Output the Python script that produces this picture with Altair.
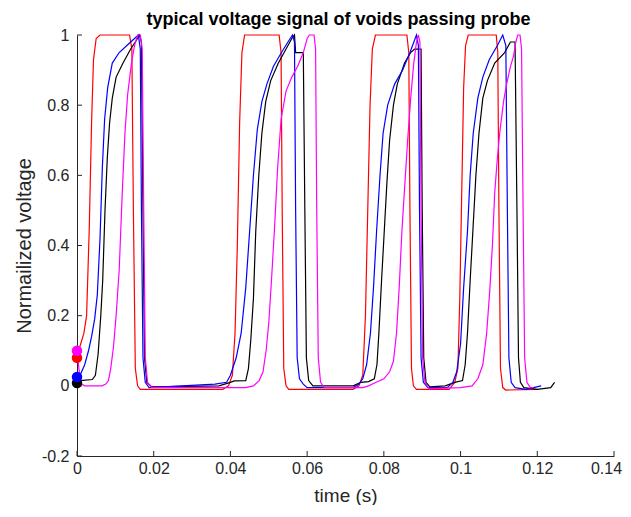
import altair as alt
import pandas as pd

# ---- data ----
red_t = [0.0000, 0.0007, 0.0018, 0.0025, 0.0032, 0.0038, 0.0043, 0.0050, 0.0060, 0.0137, 0.0143, 0.0147, 0.0152, 0.0158, 0.0165,
         0.0380, 0.0395, 0.0405, 0.0412, 0.0418, 0.0424, 0.0430, 0.0437, 0.0527, 0.0532, 0.0535, 0.0539, 0.0545, 0.0552,
         0.0720, 0.0735, 0.0745, 0.0752, 0.0758, 0.0764, 0.0770, 0.0778, 0.0860, 0.0865, 0.0868, 0.0872, 0.0877, 0.0885,
         0.0970, 0.0985, 0.0993, 0.0998, 0.1003, 0.1008, 0.1013, 0.1020, 0.1093, 0.1097, 0.1100, 0.1104, 0.1110, 0.1118, 0.1200]
red_v = [0.080, 0.110, 0.150, 0.200, 0.450, 0.750, 0.930, 0.990, 1.000, 1.000, 0.960, 0.500, 0.050, 0.000, -0.010,
         -0.010, 0.000, 0.030, 0.150, 0.400, 0.750, 0.950, 1.000, 1.000, 0.950, 0.500, 0.050, 0.000, -0.010,
         -0.010, 0.000, 0.030, 0.200, 0.500, 0.800, 0.960, 1.000, 1.000, 0.950, 0.500, 0.050, 0.000, -0.010,
         -0.010, 0.010, 0.050, 0.250, 0.550, 0.850, 0.970, 1.000, 1.000, 0.950, 0.500, 0.050, -0.005, -0.012, -0.010]

black_t = [0.0000, 0.0008, 0.0040, 0.0048, 0.0055, 0.0062, 0.0067, 0.0073, 0.0079, 0.0085, 0.0092, 0.0102, 0.0120, 0.0140,
           0.0155, 0.0163, 0.0168, 0.0172, 0.0176, 0.0182, 0.0195,
           0.0370, 0.0400, 0.0410, 0.0440, 0.0447, 0.0453, 0.0460, 0.0466, 0.0474, 0.0482, 0.0492, 0.0505, 0.0525, 0.0545,
           0.0560, 0.0567, 0.0570, 0.0590, 0.0594, 0.0598, 0.0604, 0.0615,
           0.0720, 0.0740, 0.0760, 0.0775, 0.0782, 0.0787, 0.0794, 0.0801, 0.0808, 0.0815, 0.0825, 0.0835, 0.0854, 0.0870,
           0.0880, 0.0897, 0.0900, 0.0904, 0.0910, 0.0920,
           0.0960, 0.0985, 0.1005, 0.1012, 0.1018, 0.1025, 0.1032, 0.1040, 0.1048, 0.1058, 0.1070, 0.1089, 0.1115, 0.1130,
           0.1142, 0.1147, 0.1151, 0.1156, 0.1165, 0.1200, 0.1235, 0.1245]
black_v = [0.010, 0.015, 0.018, 0.030, 0.090, 0.200, 0.300, 0.500, 0.650, 0.750, 0.820, 0.880, 0.920, 0.960,
           0.985, 1.000, 0.980, 0.500, 0.080, 0.010, -0.003,
           0.000, 0.010, 0.014, 0.015, 0.050, 0.130, 0.250, 0.440, 0.600, 0.720, 0.810, 0.870, 0.920, 0.960,
           0.990, 1.000, 0.950, 0.950, 0.500, 0.080, 0.015, 0.000,
           0.000, 0.010, 0.012, 0.020, 0.060, 0.150, 0.300, 0.440, 0.580, 0.700, 0.800, 0.860, 0.920, 0.950,
           0.960, 0.960, 0.500, 0.080, 0.010, -0.003,
           0.000, 0.010, 0.015, 0.060, 0.150, 0.300, 0.440, 0.600, 0.720, 0.820, 0.870, 0.920, 0.950, 0.980,
           0.980, 0.500, 0.080, 0.010, -0.005, -0.010, -0.005, 0.010]

blue_t = [0.0000, 0.0010, 0.0020, 0.0030, 0.0038, 0.0046, 0.0053, 0.0060, 0.0066, 0.0072, 0.0080, 0.0092, 0.0110, 0.0130,
          0.0150, 0.0160, 0.0165, 0.0168, 0.0172, 0.0178, 0.0188,
          0.0360, 0.0390, 0.0400, 0.0415, 0.0428, 0.0440, 0.0450, 0.0460, 0.0470, 0.0482, 0.0495, 0.0512, 0.0533, 0.0550,
          0.0562, 0.0567, 0.0570, 0.0574, 0.0580, 0.0590, 0.0600,
          0.0720, 0.0735, 0.0745, 0.0755, 0.0765, 0.0773, 0.0781, 0.0790, 0.0798, 0.0810, 0.0828, 0.0849, 0.0868, 0.0885,
          0.0890, 0.0893, 0.0897, 0.0903, 0.0915,
          0.0965, 0.0980, 0.0990, 0.1000, 0.1008, 0.1018, 0.1025, 0.1033, 0.1045, 0.1058, 0.1075, 0.1096, 0.1110, 0.1118,
          0.1122, 0.1126, 0.1132, 0.1142, 0.1170, 0.1190, 0.1210]
blue_v = [0.025, 0.035, 0.060, 0.100, 0.140, 0.190, 0.260, 0.420, 0.620, 0.760, 0.850, 0.920, 0.950, 0.970,
          0.990, 1.000, 0.960, 0.500, 0.080, 0.010, -0.005,
          0.005, 0.010, 0.030, 0.080, 0.150, 0.280, 0.440, 0.600, 0.730, 0.810, 0.860, 0.910, 0.950, 0.980,
          1.000, 0.980, 0.500, 0.080, 0.020, 0.005, -0.005,
          -0.005, 0.005, 0.020, 0.060, 0.150, 0.280, 0.440, 0.600, 0.720, 0.800, 0.860, 0.900, 0.950, 1.000,
          0.970, 0.500, 0.080, 0.010, -0.005,
          -0.005, 0.010, 0.040, 0.120, 0.280, 0.440, 0.600, 0.720, 0.820, 0.880, 0.930, 0.970, 1.000, 0.970,
          0.500, 0.080, 0.010, -0.005, -0.010, -0.005, 0.000]

magenta_t = [0.0000, 0.0006, 0.0012, 0.0020, 0.0065, 0.0075, 0.0082, 0.0088, 0.0095, 0.0102, 0.0110, 0.0118, 0.0125, 0.0132,
             0.0142, 0.0150, 0.0158, 0.0165, 0.0170, 0.0174, 0.0178, 0.0184, 0.0195,
             0.0440, 0.0460, 0.0475, 0.0485, 0.0493, 0.0500, 0.0507, 0.0515, 0.0523, 0.0532, 0.0545, 0.0560, 0.0575, 0.0590,
             0.0600, 0.0606, 0.0618, 0.0622, 0.0625, 0.0629, 0.0635, 0.0645,
             0.0745, 0.0760, 0.0780, 0.0800, 0.0815, 0.0825, 0.0833, 0.0840, 0.0847, 0.0855, 0.0862, 0.0870, 0.0878, 0.0885,
             0.0890, 0.0894, 0.0897, 0.0901, 0.0907, 0.0918,
             0.1000, 0.1030, 0.1045, 0.1058, 0.1068, 0.1076, 0.1083, 0.1089, 0.1096, 0.1102, 0.1112, 0.1120, 0.1130, 0.1138,
             0.1144, 0.1149, 0.1155, 0.1159, 0.1163, 0.1167, 0.1173, 0.1182, 0.1190]
magenta_v = [0.100, 0.040, 0.005, 0.000, 0.000, 0.005, 0.015, 0.050, 0.110, 0.200, 0.330, 0.550, 0.720, 0.830,
             0.920, 0.970, 1.000, 1.000, 0.960, 0.500, 0.080, 0.010, -0.005,
             -0.005, 0.000, 0.015, 0.040, 0.100, 0.180, 0.300, 0.450, 0.620, 0.760, 0.840, 0.880, 0.910, 0.950,
             0.990, 1.000, 1.000, 0.960, 0.500, 0.080, 0.010, -0.005,
             -0.005, 0.000, 0.010, 0.020, 0.040, 0.070, 0.150, 0.280, 0.440, 0.580, 0.700, 0.820, 0.920, 0.980,
             1.000, 0.980, 0.500, 0.080, 0.010, -0.008,
             -0.005, 0.000, 0.020, 0.060, 0.150, 0.270, 0.400, 0.550, 0.650, 0.720, 0.810, 0.860, 0.910, 0.940,
             0.980, 1.000, 1.000, 0.960, 0.500, 0.080, 0.010, -0.005, -0.005]

dot_series = ["black", "blue", "red", "magenta"]
dot_t = [0.0, 0.0, 0.0, 0.0]
dot_v = [0.008, 0.025, 0.080, 0.100]

colors = {"red": "#ff0000", "black": "#000000", "blue": "#0000ff", "magenta": "#ff00ff"}

x_ticks = [0, 0.02, 0.04, 0.06, 0.08, 0.1, 0.12, 0.14]
y_ticks = [-0.2, 0, 0.2, 0.4, 0.6, 0.8, 1]

FONT = "Liberation Sans"
AXC = "#262626"

xscale = alt.Scale(domain=[0, 0.14], nice=False, zero=False)
yscale = alt.Scale(domain=[-0.2, 1], nice=False, zero=False)
xaxis = alt.Axis(values=x_ticks, labelExpr="toString(datum.value)", title="time (s)", ticks=False, grid=False,
                 domainColor=AXC, labelColor=AXC, titleColor=AXC, labelFont=FONT, titleFont=FONT,
                 labelFontSize=16, titleFontSize=19, titleFontWeight="normal", labelPadding=4, titlePadding=10,
                 labelOffset={"condition": {"test": "datum.value > 0.139", "value": -8}, "value": 0},
                 labelFlush=False, labelOverlap=False)
yaxis = alt.Axis(values=y_ticks, labelExpr="toString(datum.value)", title="Normailized voltage", ticks=False, grid=False,
                 domainColor=AXC, labelColor=AXC, titleColor=AXC, labelFont=FONT, titleFont=FONT,
                 labelFontSize=16, titleFontSize=20, titleFontWeight="normal", labelPadding=8, titlePadding=7,
                 labelFlush=False, labelOverlap=False)

X = alt.X("t:Q", scale=xscale, axis=xaxis)
Y = alt.Y("v:Q", scale=yscale, axis=yaxis)


def line(ts, vs, col):
    df = pd.DataFrame({"t": ts, "v": vs, "i": range(len(ts))})
    return alt.Chart(df).mark_line(strokeWidth=1.2, color=col, clip=False).encode(x=X, y=Y, order="i:Q")


lines = [line(red_t, red_v, colors["red"]),
         line(black_t, black_v, colors["black"]),
         line(blue_t, blue_v, colors["blue"]),
         line(magenta_t, magenta_v, colors["magenta"])]

dots_df = pd.DataFrame({"t": dot_t, "v": dot_v, "s": dot_series})
dots = alt.Chart(dots_df).mark_point(filled=True, size=110, opacity=1).encode(
    x=X, y=Y,
    color=alt.Color("s:N", scale=alt.Scale(domain=list(colors.keys()), range=list(colors.values())), legend=None))

xt = alt.Chart(pd.DataFrame({"t": x_ticks})).mark_rule(color=AXC, strokeWidth=1).encode(
    x=X, y=alt.datum(-0.2), y2=alt.value(421 - 5))
yt = alt.Chart(pd.DataFrame({"v": y_ticks})).mark_rule(color=AXC, strokeWidth=1).encode(
    y=Y, x=alt.datum(0), x2=alt.value(5))

chart = alt.layer(xt, yt, *lines, dots).properties(
    width=537, height=421,
    padding={"left": 69, "top": 27, "right": 9, "bottom": 49},
    autosize=alt.AutoSizeParams(type="none"),
    title=alt.TitleParams("typical voltage signal of voids passing probe", font=FONT, fontSize=18,
                          fontWeight="bold", color="#000000", anchor="middle", offset=-2, dx=-7),
).configure_view(stroke=None)

chart.save("out.html", embed_options={"renderer": "svg", "actions": False})
